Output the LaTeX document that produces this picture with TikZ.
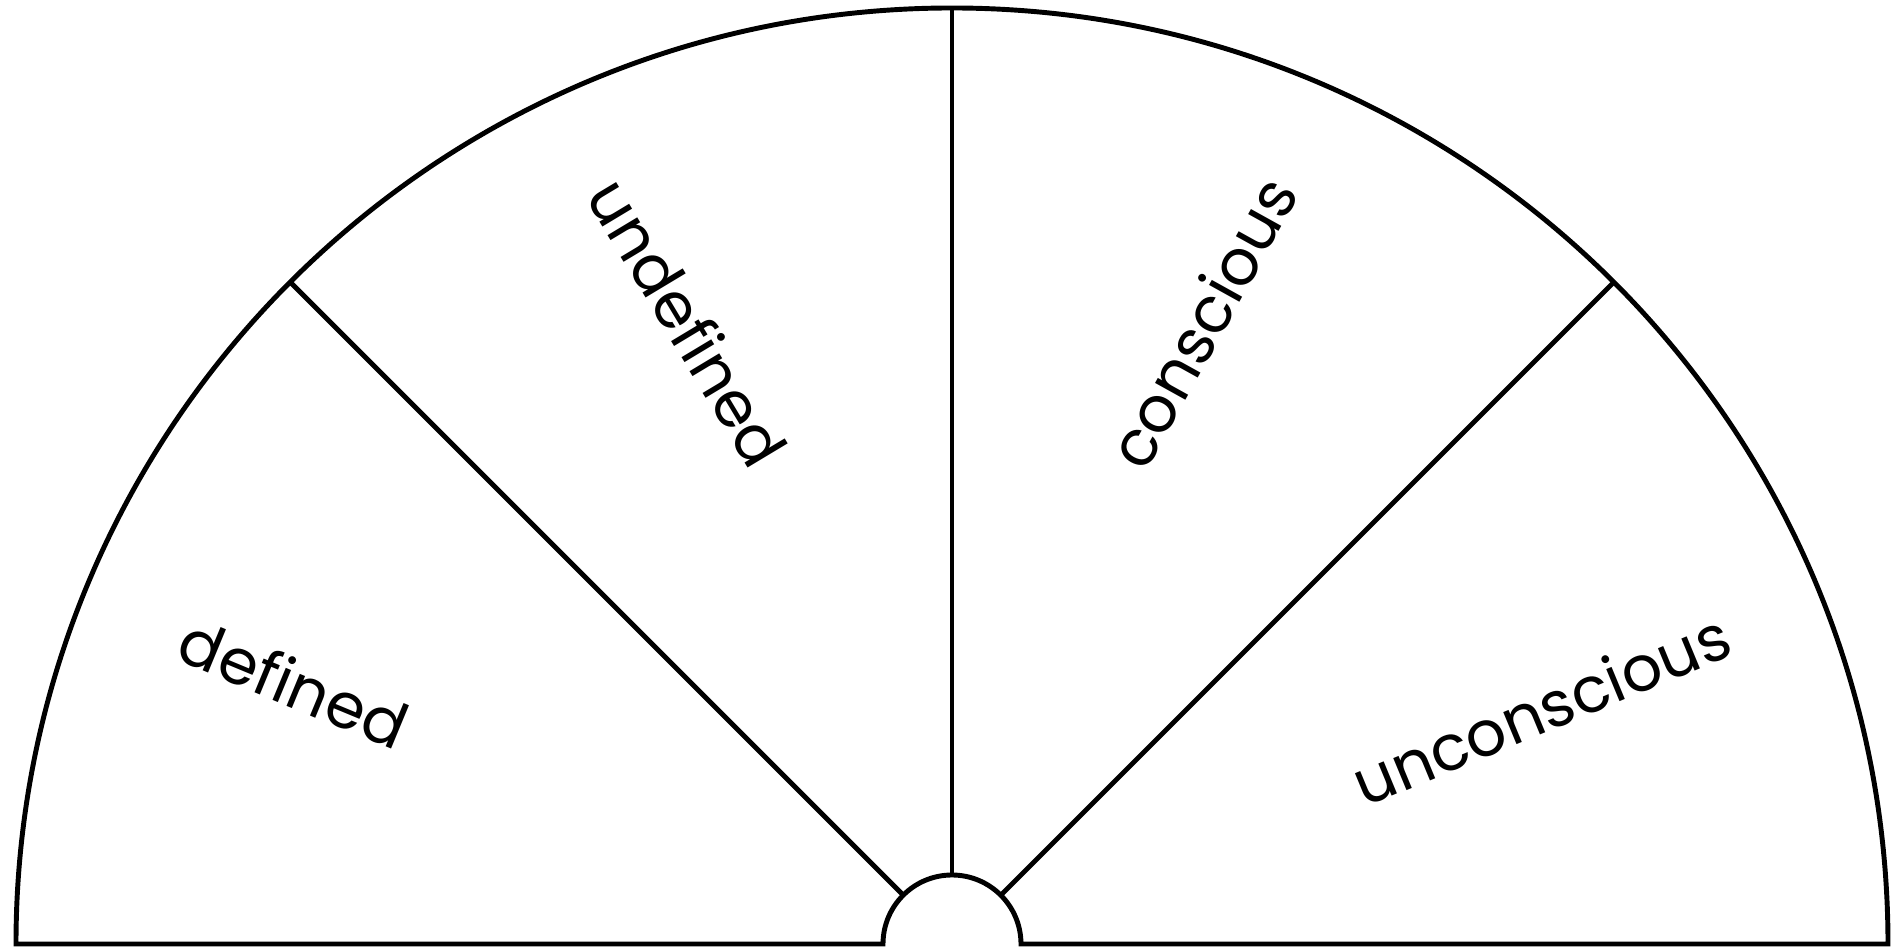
\documentclass[tikz,border=0pt]{standalone}
\usepackage{fontspec}
\setmainfont{Poppins}
\usetikzlibrary{calc}
\begin{document}
\begin{tikzpicture}[x=0.01cm,y=0.01cm,
  edge/.style={line width=1.4pt,draw=black,line join=miter},
  lbl/.style={font=\fontsize{18}{20}\selectfont,inner sep=0pt,anchor=center}]
\useasboundingbox (0,0) rectangle (1896,949);
\coordinate (C) at (952,5);
% outer boundary
\draw[edge] (16,5) -- (883,5) arc[start angle=180,end angle=0,radius=69]
  -- (1888,5) arc[start angle=0,end angle=180,radius=936] -- cycle;
% dividers
\foreach \a in {45,90,135}{
  \draw[edge] ($(C)+(\a:69)$) -- ($(C)+(\a:936)$);
}
\node[lbl,rotate=-22.5] (defined) at (294,266) {defined};
\node[lbl,rotate=-59] (undefined) at (688,627) {undefined};
\node[lbl,rotate=61] (conscious) at (1202,627) {conscious};
\node[lbl,rotate=22.5] (unconscious) at (1541,240) {unconscious};
\end{tikzpicture}
\end{document}
